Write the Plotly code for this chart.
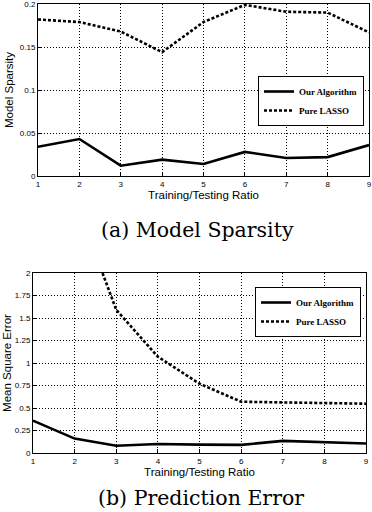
import plotly.graph_objects as go

ratio = [1, 2, 3, 4, 5, 6, 7, 8, 9]

# (a) model sparsity
sparsity_ours = [0.034, 0.043, 0.012, 0.019, 0.014, 0.028, 0.021, 0.022, 0.036]
sparsity_lasso = [0.182, 0.179, 0.168, 0.144, 0.179, 0.199, 0.191, 0.190, 0.167]

# (b) prediction error (lasso goes off the top of the axes on the left)
mse_ours = [0.36, 0.16, 0.08, 0.10, 0.093, 0.09, 0.135, 0.12, 0.105]
mse_lasso = [4.2, 2.83, 1.59, 1.07, 0.77, 0.57, 0.562, 0.556, 0.548]

sparsity_ticks = [0, 0.05, 0.1, 0.15, 0.2]
sparsity_ticktext = ["0", "0.05", "0.1", "0.15", "0.2"]
mse_ticks = [0, 0.25, 0.5, 0.75, 1, 1.25, 1.5, 1.75, 2]
mse_ticktext = ["0", "0.25", "0.5", "0.75", "1", "1.25", "1.5", "1.75", "2"]

W, H = 372, 512

def px_x(a, b):
    return [a / W, b / W]

def px_y(top, bottom):
    return [1 - bottom / H, 1 - top / H]

solid = dict(color="black", width=2.6)
dashed = dict(color="black", width=2.6, dash="3px,2px")

fig = go.Figure()
fig.add_trace(go.Scatter(x=ratio, y=sparsity_ours, mode="lines", line=solid,
                         name="Our Algorithm", legend="legend", xaxis="x", yaxis="y"))
fig.add_trace(go.Scatter(x=ratio, y=sparsity_lasso, mode="lines", line=dashed,
                         name="Pure LASSO", legend="legend", xaxis="x", yaxis="y"))
fig.add_trace(go.Scatter(x=ratio, y=mse_ours, mode="lines", line=solid,
                         name="Our Algorithm", legend="legend2", xaxis="x2", yaxis="y2"))
fig.add_trace(go.Scatter(x=ratio, y=mse_lasso, mode="lines", line=dashed,
                         name="Pure LASSO", legend="legend2", xaxis="x2", yaxis="y2"))

tickfont = dict(family="Liberation Sans, Arial", size=8, color="black")
titlefont = dict(family="Liberation Sans, Arial", size=11.5, color="black")
legendfont = dict(family="Liberation Serif, Times New Roman", size=9, color="black", weight="bold")

common = dict(
    showline=True, linecolor="black", linewidth=1, mirror=True,
    ticks="inside", ticklen=4, tickcolor="black",
    showgrid=True, gridcolor="black", gridwidth=1, griddash="1px,2px",
    zeroline=False, tickfont=tickfont, automargin=False,
    ticklabeloverflow="allow",
)

fig.update_layout(
    width=W, height=H,
    margin=dict(l=0, r=0, t=0, b=0),
    paper_bgcolor="white", plot_bgcolor="white",
    xaxis=dict(common, domain=px_x(38, 369), anchor="y", range=[1, 9], tickvals=ratio,
               title=dict(text="Training/Testing Ratio", font=titlefont, standoff=0)),
    yaxis=dict(common, domain=px_y(4, 176), anchor="x", range=[0, 0.2],
               tickvals=sparsity_ticks, ticktext=sparsity_ticktext,
               title=dict(text="Model Sparsity", font=titlefont, standoff=3)),
    xaxis2=dict(common, domain=px_x(33, 366), anchor="y2", range=[1, 9], tickvals=ratio,
                title=dict(text="Training/Testing Ratio", font=titlefont, standoff=0)),
    yaxis2=dict(common, domain=px_y(273, 453), anchor="x2", range=[0, 2],
                tickvals=mse_ticks, ticktext=mse_ticktext,
                title=dict(text="Mean Square Error", font=titlefont, standoff=0)),
    legend=dict(x=364 / W, y=1 - 76 / H, xanchor="right", yanchor="top",
                bgcolor="white", bordercolor="black", borderwidth=1,
                font=legendfont, itemwidth=30, tracegroupgap=0),
    legend2=dict(x=361 / W, y=1 - 287 / H, xanchor="right", yanchor="top",
                 bgcolor="white", bordercolor="black", borderwidth=1,
                 font=legendfont, itemwidth=30, tracegroupgap=0),
    showlegend=True,
)

captionfont = dict(family="DejaVu Serif", size=20.5, color="black")
fig.add_annotation(text="(a) Model Sparsity", x=197 / W, y=1 - 230 / H,
                   xref="paper", yref="paper", showarrow=False, font=captionfont,
                   xanchor="center", yanchor="middle")
fig.add_annotation(text="(b) Prediction Error", x=201 / W, y=1 - 498 / H,
                   xref="paper", yref="paper", showarrow=False, font=captionfont,
                   xanchor="center", yanchor="middle")

# the browser's default 8px body margin would shift the figure off the window
fig.write_html("out.html", config={"displayModeBar": False},
               post_script="document.body.style.margin = '0';")
